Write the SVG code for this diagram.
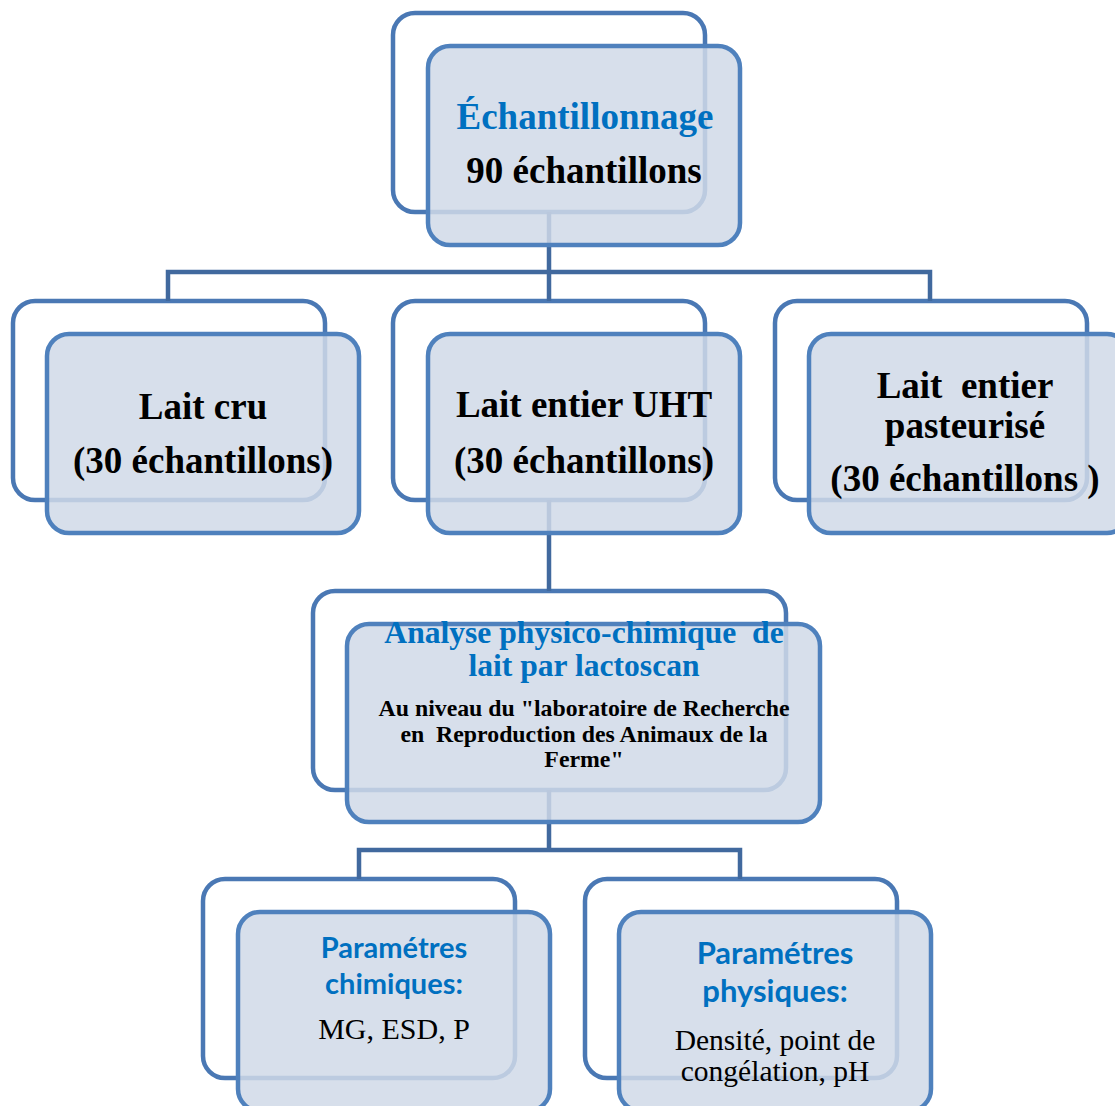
<svg xmlns="http://www.w3.org/2000/svg" width="1115" height="1106" viewBox="0 0 1115 1106">
<style>
.back{fill:#ffffff;stroke:#4a78b4;stroke-width:4.5}
.front{fill:#d0d9e8;fill-opacity:0.85;stroke:#4f81bd;stroke-width:4.5}
.conn{fill:none;stroke:#41699e;stroke-width:4.5}
text{white-space:pre;text-anchor:middle}
.tb{font-family:"Liberation Serif",serif;font-weight:bold;fill:#000}
.tblue{font-family:"Liberation Serif",serif;font-weight:bold;fill:#0070c0}
.sblue{font-family:Lato,"Open Sans",sans-serif;font-weight:bold;fill:#0070c0}
.tr{font-family:"Liberation Serif",serif;fill:#000}
</style>
<rect width="1115" height="1106" fill="#ffffff"/>
<g id="backs">
<rect class="back" x="393" y="13" width="312" height="199" rx="22"/>
<rect class="back" x="13" y="301" width="312" height="199" rx="22"/>
<rect class="back" x="393" y="301" width="312" height="199" rx="22"/>
<rect class="back" x="775" y="301" width="312" height="199" rx="22"/>
<rect class="back" x="313" y="591" width="473" height="199" rx="22"/>
<rect class="back" x="203" y="879" width="312" height="199" rx="22"/>
<rect class="back" x="585" y="879" width="312" height="199" rx="22"/>
</g>
<g id="connectors">
<path class="conn" d="M549 212V272M168 301V272H930V301M549 272V301"/>
<path class="conn" d="M549 500V591"/>
<path class="conn" d="M549 790V850M359 879V850H740V879"/>
</g>
<g id="node-echantillonnage">
<rect class="front" x="428" y="46" width="312" height="199" rx="22"/>
<text class="tblue" x="585" y="129" font-size="37">Échantillonnage</text>
<text class="tb" x="584" y="183" font-size="37">90 échantillons</text>
</g>
<g id="node-lait-cru">
<rect class="front" x="47" y="334" width="312" height="199" rx="22"/>
<text class="tb" x="203" y="419" font-size="37">Lait cru</text>
<text class="tb" x="203" y="473" font-size="37">(30 échantillons)</text>
</g>
<g id="node-lait-uht">
<rect class="front" x="428" y="334" width="312" height="199" rx="22"/>
<text class="tb" x="584" y="417" font-size="37">Lait entier UHT</text>
<text class="tb" x="584" y="473" font-size="37">(30 échantillons)</text>
</g>
<g id="node-lait-pasteurise">
<rect class="front" x="809" y="334" width="320" height="199" rx="22"/>
<text class="tb" x="965" y="398" font-size="37">Lait  entier</text>
<text class="tb" x="965" y="438" font-size="37">pasteurisé</text>
<text class="tb" x="965" y="491" font-size="37">(30 échantillons )</text>
</g>
<g id="node-analyse">
<rect class="front" x="347" y="624" width="473" height="198" rx="22"/>
<text class="tblue" x="584" y="643" font-size="31.6">Analyse physico-chimique  de</text>
<text class="tblue" x="584" y="676" font-size="31.6">lait par lactoscan</text>
<text class="tb" x="584" y="716" font-size="23.8">Au niveau du "laboratoire de Recherche</text>
<text class="tb" x="584" y="742" font-size="23.8">en  Reproduction des Animaux de la</text>
<text class="tb" x="584" y="767" font-size="23.8">Ferme"</text>
</g>
<g id="node-chimiques">
<rect class="front" x="238" y="912" width="312" height="199" rx="22"/>
<text class="sblue" x="394" y="958" font-size="29">Paramétres</text>
<text class="sblue" x="394" y="994" font-size="29">chimiques:</text>
<text class="tr" x="394" y="1039" font-size="30">MG, ESD, P</text>
</g>
<g id="node-physiques">
<rect class="front" x="619" y="912" width="312" height="199" rx="22"/>
<text class="sblue" x="775" y="964" font-size="31">Paramétres</text>
<text class="sblue" x="775" y="1002" font-size="31">physiques:</text>
<text class="tr" x="775" y="1050" font-size="29.5">Densité, point de</text>
<text class="tr" x="775" y="1081" font-size="29.5">congélation, pH</text>
</g>
</svg>
